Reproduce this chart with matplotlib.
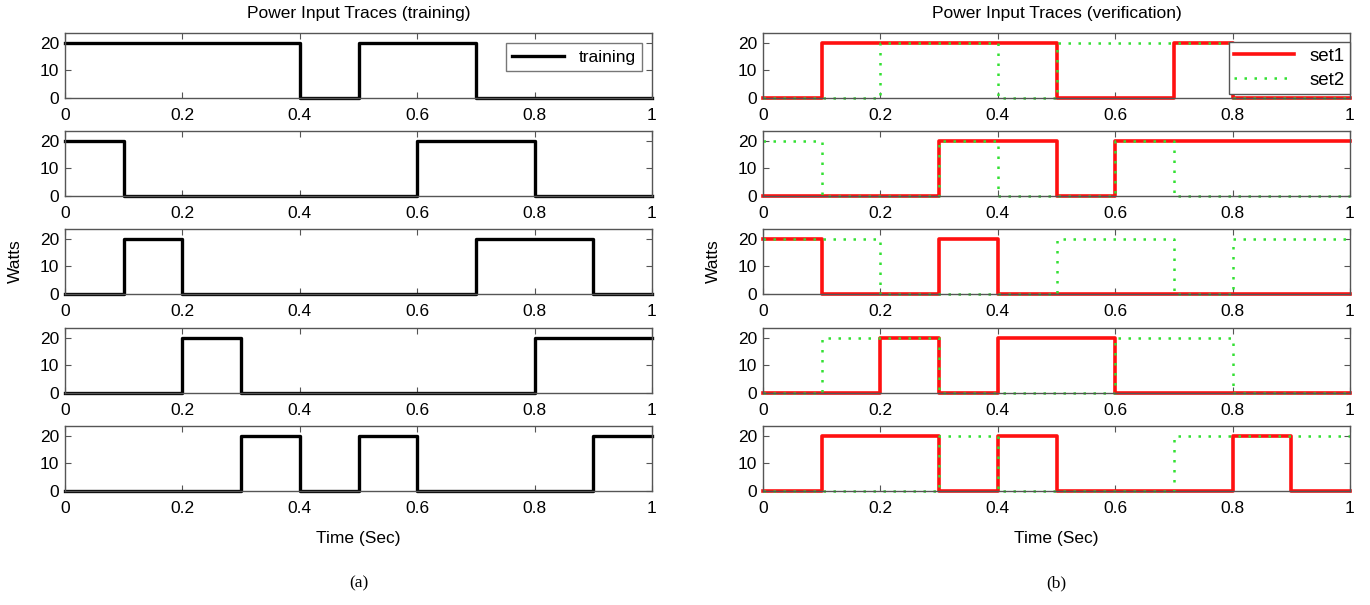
import numpy as np
import matplotlib
matplotlib.use("Agg")
import matplotlib.pyplot as plt

plt.rcParams['font.family'] = ['Liberation Sans', 'DejaVu Sans']

# 10 segments of 0.1 s each; 1 = 20 W on, 0 = off
time_edges = [0.0, 0.1, 0.2, 0.3, 0.4, 0.5, 0.6, 0.7, 0.8, 0.9, 1.0]
power_level = 20

training_1 = [1, 1, 1, 1, 0, 1, 1, 0, 0, 0]
training_2 = [1, 0, 0, 0, 0, 0, 1, 1, 0, 0]
training_3 = [0, 1, 0, 0, 0, 0, 0, 1, 1, 0]
training_4 = [0, 0, 1, 0, 0, 0, 0, 0, 1, 1]
training_5 = [0, 0, 0, 1, 0, 1, 0, 0, 0, 1]

set1_1 = [0, 1, 1, 1, 1, 0, 0, 1, 0, 0]
set1_2 = [0, 0, 0, 1, 1, 0, 1, 1, 1, 1]
set1_3 = [1, 0, 0, 1, 0, 0, 0, 0, 0, 0]
set1_4 = [0, 0, 1, 0, 1, 1, 0, 0, 0, 0]
set1_5 = [0, 1, 1, 0, 1, 0, 0, 0, 1, 0]

set2_1 = [0, 0, 1, 1, 0, 1, 1, 1, 0, 0]
set2_2 = [1, 0, 0, 1, 0, 0, 1, 0, 0, 0]
set2_3 = [1, 1, 0, 0, 0, 1, 1, 0, 1, 1]
set2_4 = [0, 1, 1, 0, 0, 0, 1, 1, 0, 0]
set2_5 = [0, 0, 0, 1, 0, 0, 0, 1, 1, 1]

training = [training_1, training_2, training_3, training_4, training_5]
set1 = [set1_1, set1_2, set1_3, set1_4, set1_5]
set2 = [set2_1, set2_2, set2_3, set2_4, set2_5]

xticks = [0, 0.2, 0.4, 0.6, 0.8, 1]
xticklabels = ["0", "0.2", "0.4", "0.6", "0.8", "1"]
yticks = [0, 10, 20]

W, H = 1370, 605
fig = plt.figure(figsize=(W / 100, H / 100), dpi=100)

row_tops = [33, 131, 229, 328, 426]
row_h = 65
lefts = [65, 763]
ax_w = 587
spine_col = '#555555'
fs = 12.5


def stepvals(v):
    return [power_level * x for x in v] + [power_level * v[-1]]


def make_ax(left, top):
    ax = fig.add_axes([left / W, 1 - (top + row_h) / H, ax_w / W, row_h / H])
    ax.set_xlim(0, 1)
    ax.set_ylim(0, 23.5)
    ax.set_xticks(xticks)
    ax.set_xticklabels(xticklabels)
    ax.set_yticks(yticks)
    ax.tick_params(direction='in', top=True, right=True, length=4,
                   labelsize=fs, color=spine_col, width=0.8)
    ax.tick_params(axis='x', pad=7)
    ax.tick_params(axis='y', pad=4)
    for s in ax.spines.values():
        s.set_color(spine_col)
        s.set_linewidth(1.0)
    return ax


axes_left = []
axes_right = []
for i in range(5):
    ax = make_ax(lefts[0], row_tops[i])
    ax.plot(time_edges, stepvals(training[i]), drawstyle='steps-post',
            color='black', lw=2.4, label='training', clip_on=False)
    axes_left.append(ax)

    ax2 = make_ax(lefts[1], row_tops[i])
    ax2.plot(time_edges, stepvals(set1[i]), drawstyle='steps-post',
             color='#ff1010', lw=2.6, label='set1', clip_on=False)
    ax2.plot(time_edges, stepvals(set2[i]), drawstyle='steps-post',
             color='#33e033', lw=1.8, linestyle=(0, (1, 3)), label='set2',
             clip_on=False)
    axes_right.append(ax2)

leg = axes_left[0].legend(loc='upper right', fontsize=fs, frameon=True,
                          fancybox=False, handlelength=3.0, borderaxespad=0.6,
                          borderpad=0.35)
leg.get_frame().set_edgecolor(spine_col)
leg.get_frame().set_linewidth(1.0)

leg2 = axes_right[0].legend(loc='upper right', fontsize=13.5, frameon=True,
                            fancybox=False, handlelength=3.2, borderaxespad=0.0,
                            borderpad=0.3, labelspacing=0.35,
                            bbox_to_anchor=(1.0, 0.86))
leg2.get_frame().set_edgecolor(spine_col)
leg2.get_frame().set_linewidth(1.0)
leg2.get_frame().set_alpha(1.0)

axes_left[0].set_title('Power Input Traces (training)', fontsize=fs, pad=11)
axes_right[0].set_title('Power Input Traces (verification)', fontsize=fs, pad=11)
axes_left[4].set_xlabel('Time (Sec)', fontsize=fs, labelpad=11)
axes_right[4].set_xlabel('Time (Sec)', fontsize=fs, labelpad=11)
axes_left[2].set_ylabel('Watts', fontsize=fs, labelpad=12)
axes_right[2].set_ylabel('Watts', fontsize=fs, labelpad=12)

fig.text((65 + ax_w / 2) / W, 1 - 583 / H, '(a)', ha='center', va='center',
         fontsize=12.5, family=['Liberation Serif', 'DejaVu Serif'])
fig.text((763 + ax_w / 2) / W, 1 - 583 / H, '(b)', ha='center', va='center',
         fontsize=12.5, family=['Liberation Serif', 'DejaVu Serif'])

fig.savefig('out.png', dpi=100)
